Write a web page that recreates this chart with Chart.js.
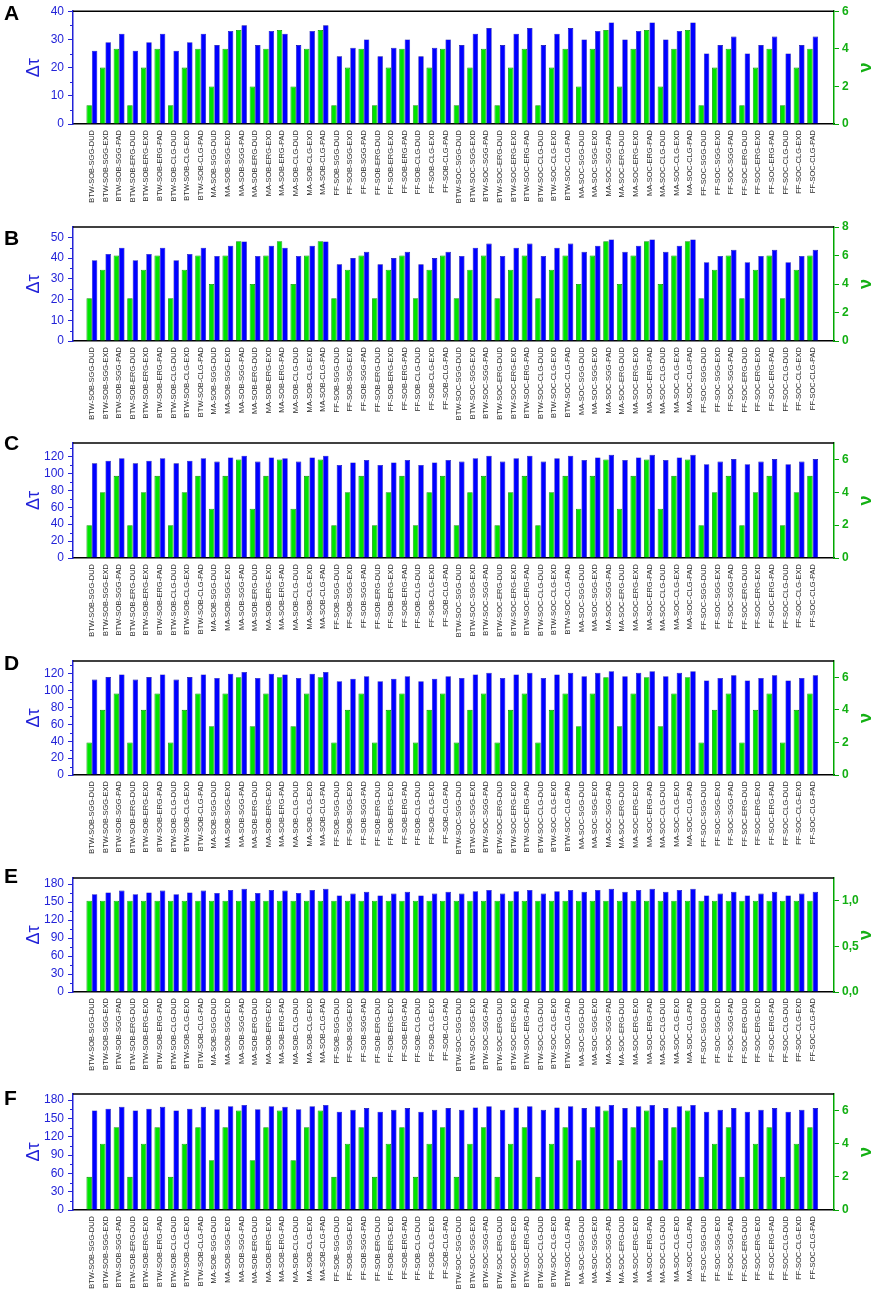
<!DOCTYPE html>
<html>
<head>
<meta charset="utf-8">
<script src="https://cdn.jsdelivr.net/npm/chart.js@4.4.1/dist/chart.umd.min.js"></script>
<style>
  body { margin: 0; background: #fff; width: 886px; height: 1291px; position: relative; overflow: hidden; font-family: "Liberation Sans", Arial, sans-serif; }
  .panel { position: absolute; left: 0; width: 886px; }
  .letter { position: absolute; left: 4px; font-weight: bold; font-size: 21px; color: #000; line-height: 24px; }
</style>
</head>
<body>

<script>
// categories (x axis)
const categories = [
  "BTW-SOB-SGG-DUD", "BTW-SOB-SGG-EXD", "BTW-SOB-SGG-PAD",
  "BTW-SOB-ERG-DUD", "BTW-SOB-ERG-EXD", "BTW-SOB-ERG-PAD",
  "BTW-SOB-CLG-DUD", "BTW-SOB-CLG-EXD", "BTW-SOB-CLG-PAD",
  "MA-SOB-SGG-DUD", "MA-SOB-SGG-EXD", "MA-SOB-SGG-PAD",
  "MA-SOB-ERG-DUD", "MA-SOB-ERG-EXD", "MA-SOB-ERG-PAD",
  "MA-SOB-CLG-DUD", "MA-SOB-CLG-EXD", "MA-SOB-CLG-PAD",
  "FF-SOB-SGG-DUD", "FF-SOB-SGG-EXD", "FF-SOB-SGG-PAD",
  "FF-SOB-ERG-DUD", "FF-SOB-ERG-EXD", "FF-SOB-ERG-PAD",
  "FF-SOB-CLG-DUD", "FF-SOB-CLG-EXD", "FF-SOB-CLG-PAD",
  "BTW-SOC-SGG-DUD", "BTW-SOC-SGG-EXD", "BTW-SOC-SGG-PAD",
  "BTW-SOC-ERG-DUD", "BTW-SOC-ERG-EXD", "BTW-SOC-ERG-PAD",
  "BTW-SOC-CLG-DUD", "BTW-SOC-CLG-EXD", "BTW-SOC-CLG-PAD",
  "MA-SOC-SGG-DUD", "MA-SOC-SGG-EXD", "MA-SOC-SGG-PAD",
  "MA-SOC-ERG-DUD", "MA-SOC-ERG-EXD", "MA-SOC-ERG-PAD",
  "MA-SOC-CLG-DUD", "MA-SOC-CLG-EXD", "MA-SOC-CLG-PAD",
  "FF-SOC-SGG-DUD", "FF-SOC-SGG-EXD", "FF-SOC-SGG-PAD",
  "FF-SOC-ERG-DUD", "FF-SOC-ERG-EXD", "FF-SOC-ERG-PAD",
  "FF-SOC-CLG-DUD", "FF-SOC-CLG-EXD", "FF-SOC-CLG-PAD"
];

// panel A
const dtA = [
  26, 29, 32, 26, 29, 32, 26, 29, 32,
  28, 33, 35, 28, 33, 32, 28, 33, 35,
  24, 27, 30, 24, 27, 30, 24, 27, 30,
  28, 32, 34, 28, 32, 34, 28, 32, 34,
  30, 33, 36, 30, 33, 36, 30, 33, 36,
  25, 28, 31, 25, 28, 31, 25, 28, 31
];
const vA = [
  1, 3, 4, 1, 3, 4, 1, 3, 4,
  2, 4, 5, 2, 4, 5, 2, 4, 5,
  1, 3, 4, 1, 3, 4, 1, 3, 4,
  1, 3, 4, 1, 3, 4, 1, 3, 4,
  2, 4, 5, 2, 4, 5, 2, 4, 5,
  1, 3, 4, 1, 3, 4, 1, 3, 4
];

// panel B
const dtB = [
  39, 42, 45, 39, 42, 45, 39, 42, 45,
  41, 46, 48, 41, 46, 45, 41, 46, 48,
  37, 40, 43, 37, 40, 43, 37, 40, 43,
  41, 45, 47, 41, 45, 47, 41, 45, 47,
  43, 46, 49, 43, 46, 49, 43, 46, 49,
  38, 41, 44, 38, 41, 44, 38, 41, 44
];
const vB = [
  3, 5, 6, 3, 5, 6, 3, 5, 6,
  4, 6, 7, 4, 6, 7, 4, 6, 7,
  3, 5, 6, 3, 5, 6, 3, 5, 6,
  3, 5, 6, 3, 5, 6, 3, 5, 6,
  4, 6, 7, 4, 6, 7, 4, 6, 7,
  3, 5, 6, 3, 5, 6, 3, 5, 6
];

// panel C
const dtC = [
  112, 115, 118, 112, 115, 118, 112, 115, 118,
  114, 119, 121, 114, 119, 118, 114, 119, 121,
  110, 113, 116, 110, 113, 116, 110, 113, 116,
  114, 118, 121, 114, 118, 121, 114, 118, 121,
  116, 119, 122, 116, 119, 122, 116, 119, 122,
  111, 114, 117, 111, 114, 117, 111, 114, 117
];
const vC = [
  2, 4, 5, 2, 4, 5, 2, 4, 5,
  3, 5, 6, 3, 5, 6, 3, 5, 6,
  2, 4, 5, 2, 4, 5, 2, 4, 5,
  2, 4, 5, 2, 4, 5, 2, 4, 5,
  3, 5, 6, 3, 5, 6, 3, 5, 6,
  2, 4, 5, 2, 4, 5, 2, 4, 5
];

// panel D
const dtD = [
  113, 116, 119, 113, 116, 119, 113, 116, 119,
  115, 120, 122, 115, 120, 119, 115, 120, 122,
  111, 114, 117, 111, 114, 117, 111, 114, 117,
  115, 119, 121, 115, 119, 121, 115, 119, 121,
  117, 121, 123, 117, 121, 123, 117, 121, 123,
  112, 115, 118, 112, 115, 118, 112, 115, 118
];
const vD = [
  2, 4, 5, 2, 4, 5, 2, 4, 5,
  3, 5, 6, 3, 5, 6, 3, 5, 6,
  2, 4, 5, 2, 4, 5, 2, 4, 5,
  2, 4, 5, 2, 4, 5, 2, 4, 5,
  3, 5, 6, 3, 5, 6, 3, 5, 6,
  2, 4, 5, 2, 4, 5, 2, 4, 5
];

// panel E
const dtE = [
  163, 166, 169, 163, 166, 169, 163, 166, 169,
  165, 170, 172, 165, 170, 169, 165, 170, 172,
  161, 164, 167, 161, 164, 167, 161, 164, 167,
  164, 168, 170, 164, 168, 170, 164, 168, 170,
  167, 170, 172, 167, 170, 172, 167, 170, 172,
  161, 164, 167, 161, 164, 167, 161, 164, 167
];
const vE = [
  1, 1, 1, 1, 1, 1, 1, 1, 1,
  1, 1, 1, 1, 1, 1, 1, 1, 1,
  1, 1, 1, 1, 1, 1, 1, 1, 1,
  1, 1, 1, 1, 1, 1, 1, 1, 1,
  1, 1, 1, 1, 1, 1, 1, 1, 1,
  1, 1, 1, 1, 1, 1, 1, 1, 1
];

// panel F
const dtF = [
  163, 166, 169, 163, 166, 169, 163, 166, 169,
  165, 170, 172, 165, 170, 169, 165, 170, 172,
  161, 164, 167, 161, 164, 167, 161, 164, 167,
  164, 168, 170, 164, 168, 170, 164, 168, 170,
  167, 170, 172, 167, 170, 172, 167, 170, 172,
  161, 164, 167, 161, 164, 167, 161, 164, 167
];
const vF = [
  2, 4, 5, 2, 4, 5, 2, 4, 5,
  3, 5, 6, 3, 5, 6, 3, 5, 6,
  2, 4, 5, 2, 4, 5, 2, 4, 5,
  2, 4, 5, 2, 4, 5, 2, 4, 5,
  3, 5, 6, 3, 5, 6, 3, 5, 6,
  2, 4, 5, 2, 4, 5, 2, 4, 5
];

const BLUE = "#0000ff";
const BLUE_TXT = "#2323d8";
const GREEN = "#00e400";
const GREEN_AX = "#00a800";
const GREEN_TXT = "#14b014";

// placement of each panel in the page
const panels = [
  { letter: "A", top: 0,    h: 215, plotTop: 9,  plotBottom: 124, letterTop: 5,  dt: dtA, v: vA, yMax: 40,  yStep: 10, y1Max: 6,    y1Step: 2 },
  { letter: "B", top: 215,  h: 215, plotTop: 12, plotBottom: 126, letterTop: 15, dt: dtB, v: vB, yMax: 55,  yStep: 10, y1Max: 8,    y1Step: 2 },
  { letter: "C", top: 430,  h: 215, plotTop: 13, plotBottom: 128, letterTop: 5,  dt: dtC, v: vC, yMax: 136, yStep: 20, y1Max: 7,    y1Step: 2 },
  { letter: "D", top: 645,  h: 215, plotTop: 16, plotBottom: 130, letterTop: 10, dt: dtD, v: vD, yMax: 135, yStep: 20, y1Max: 7,    y1Step: 2 },
  { letter: "E", top: 860,  h: 215, plotTop: 18, plotBottom: 132, letterTop: 8,  dt: dtE, v: vE, yMax: 190, yStep: 30, y1Max: 1.25, y1Step: 0.5, comma: true },
  { letter: "F", top: 1075, h: 216, plotTop: 19, plotBottom: 135, letterTop: 15, dt: dtF, v: vF, yMax: 190, yStep: 30, y1Max: 7,    y1Step: 2 }
];

// top frame line, minor ticks and axis titles
const framePlugin = {
  id: "frame",
  afterDraw(chart, args, opts) {
    const { ctx, chartArea: a, scales } = chart;
    ctx.save();
    ctx.strokeStyle = "#000";
    ctx.lineWidth = 1.5;
    ctx.beginPath();
    ctx.moveTo(a.left, a.top);
    ctx.lineTo(a.right, a.top);
    ctx.stroke();

    const y = scales.y;
    ctx.strokeStyle = BLUE_TXT;
    ctx.lineWidth = 1;
    for (let k = 1; k * opts.minor < y.max; k += 2) {
      const py = Math.round(y.getPixelForValue(k * opts.minor)) + 0.5;
      ctx.beginPath();
      ctx.moveTo(a.left - 3, py);
      ctx.lineTo(a.left, py);
      ctx.stroke();
    }

    const mid = (a.top + a.bottom) / 2;
    ctx.font = '18px "Liberation Sans", Arial, sans-serif';
    ctx.textAlign = "center";
    ctx.textBaseline = "middle";
    ctx.fillStyle = BLUE_TXT;
    ctx.translate(34, mid);
    ctx.rotate(-Math.PI / 2);
    ctx.fillText("Δτ", 0, 0);
    ctx.setTransform(1, 0, 0, 1, 0, 0);
    ctx.scale(chart.currentDevicePixelRatio, chart.currentDevicePixelRatio);
    ctx.fillStyle = GREEN_TXT;
    ctx.font = 'bold 18px "Liberation Sans", Arial, sans-serif';
    ctx.translate(866, mid);
    ctx.rotate(-Math.PI / 2);
    ctx.fillText("ν", 0, 0);
    ctx.restore();
  }
};

// major ticks only at whole steps, never at the axis max
function stepTicks(step) {
  return (scale) => {
    const out = [];
    for (let k = 0; k * step <= scale.max + 1e-9; k++) out.push({ value: +(k * step).toFixed(6) });
    scale.ticks = out;
  };
}

panels.forEach((p) => {
  const wrap = document.createElement("div");
  wrap.className = "panel";
  wrap.style.top = p.top + "px";
  wrap.style.height = p.h + "px";
  const canvas = document.createElement("canvas");
  wrap.appendChild(canvas);
  document.body.appendChild(wrap);

  const letter = document.createElement("div");
  letter.className = "letter";
  letter.style.top = (p.top + p.letterTop - 4) + "px";
  letter.textContent = p.letter;
  document.body.appendChild(letter);

  new Chart(canvas, {
    type: "bar",
    data: {
      datasets: [
        {
          label: "ν",
          data: p.v.map((val, i) => ({ x: i, y: val })),
          yAxisID: "y1",
          backgroundColor: GREEN,
          borderColor: "#009000",
          borderWidth: 0.8,
          categoryPercentage: 0.8,
          barPercentage: 1.0,
        },
        {
          label: "Δτ",
          data: p.dt.map((val, i) => ({ x: i, y: val })),
          yAxisID: "y",
          backgroundColor: BLUE,
          borderColor: "#0000a0",
          borderWidth: 0.6,
          categoryPercentage: 0.8,
          barPercentage: 1.0,
        },
      ],
    },
    options: {
      responsive: true,
      maintainAspectRatio: false,
      animation: false,
      layout: { padding: { top: p.plotTop, left: 0, right: 0, bottom: 0 } },
      plugins: {
        legend: { display: false },
        tooltip: { enabled: false },
        frame: { minor: p.yStep / 2 },
      },
      scales: {
        x: {
          type: "linear",
          min: -0.87,
          max: 54.05,
          grid: { display: false, drawTicks: false },
          border: { color: "#000", width: 1.5 },
          afterBuildTicks: (scale) => {
            scale.ticks = categories.map((c, i) => ({ value: i }));
          },
          afterFit: (scale) => { scale.height = p.h - p.plotBottom; },
          ticks: {
            autoSkip: false,
            minRotation: 90,
            maxRotation: 90,
            padding: 6,
            color: "#2a2a2a",
            font: { size: 7.5, family: '"Liberation Sans", Arial, sans-serif' },
            callback: (value) => categories[value],
          },
        },
        y: {
          position: "left",
          min: 0,
          max: p.yMax,
          afterBuildTicks: stepTicks(p.yStep),
          afterFit: (scale) => { scale.width = 73; },
          grid: { drawOnChartArea: false, tickLength: 5, color: BLUE_TXT },
          border: { color: BLUE_TXT, width: 1.5 },
          ticks: {
            autoSkip: false,
            padding: 4,
            color: BLUE_TXT,
            font: { size: 12, family: '"Liberation Sans", Arial, sans-serif' },
          },
        },
        y1: {
          position: "right",
          min: 0,
          max: p.y1Max,
          afterBuildTicks: stepTicks(p.y1Step),
          afterFit: (scale) => { scale.width = 886 - 834; },
          grid: { drawOnChartArea: false, tickLength: 5, color: GREEN_AX },
          border: { color: GREEN_AX, width: 1.5 },
          ticks: {
            autoSkip: false,
            padding: 3,
            color: GREEN_TXT,
            font: { size: 12, weight: "bold", family: '"Liberation Sans", Arial, sans-serif' },
            callback: (value) => p.comma ? value.toFixed(1).replace(".", ",") : value,
          },
        },
      },
    },
    plugins: [framePlugin],
  });
});
</script>
</body>
</html>
